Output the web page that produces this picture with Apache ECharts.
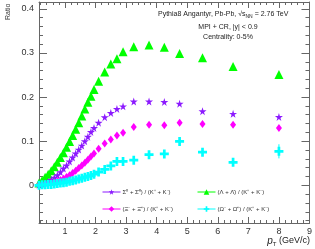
<!DOCTYPE html>
<html><head><meta charset="utf-8">
<script src="https://cdn.jsdelivr.net/npm/echarts@6/dist/echarts.min.js"></script>
<style>html,body{margin:0;padding:0;background:#fff}#c{width:315px;height:249px}</style>
</head><body><div id="c"></div>
<script>
const pT = [0.15,0.25,0.35,0.45,0.55,0.65,0.75,0.85,0.95,1.05,1.15,1.25,1.35,1.45,1.55,1.65,1.75,1.85,1.95,2.1,2.3,2.5,2.7,2.9,3.25,3.75,4.25,4.75,5.5,6.5,8.0];
const lambdaK = [0.005,0.011,0.018,0.025,0.033,0.042,0.052,0.063,0.074,0.086,0.099,0.113,0.127,0.142,0.157,0.173,0.188,0.202,0.217,0.236,0.257,0.275,0.287,0.303,0.314,0.318,0.313,0.299,0.289,0.269,0.251];
const sigmaK = [0.001,0.003,0.005,0.008,0.012,0.017,0.023,0.030,0.038,0.045,0.054,0.063,0.072,0.081,0.090,0.100,0.110,0.121,0.130,0.142,0.1545,0.164,0.173,0.179,0.190,0.190,0.189,0.185,0.168,0.162,0.155];
const xiK = [0.001,0.002,0.003,0.004,0.005,0.007,0.009,0.012,0.015,0.019,0.023,0.028,0.033,0.039,0.045,0.051,0.058,0.065,0.072,0.083,0.095,0.104,0.113,0.119,0.132,0.137,0.136,0.142,0.139,0.137,0.130];
const omegaK = [0.000,0.001,0.001,0.002,0.002,0.003,0.004,0.005,0.006,0.007,0.009,0.010,0.012,0.014,0.016,0.018,0.020,0.022,0.025,0.030,0.036,0.044,0.054,0.054,0.057,0.0695,0.071,0.0995,0.075,0.052,0.077];
const omegaErr = [0,0,0,0,0,0,0,0,0,0,0,0,0,0,0,0,0,0,0,0,0,0,0,0,0,0.003,0.004,0.006,0.005,0.005,0.016];
const seriesNames = ['Σ⁰ + Σ̄⁰) / (K⁺ + K⁻)','(Ξ⁻ + Ξ̄⁺) / (K⁺ + K⁻)','(Λ + Λ̄) / (K⁺ + K⁻)','(Ω⁻ + Ω̄⁺) / (K⁺ + K⁻)'];
const xTicks = [1,2,3,4,5,6,7,8,9];
const yTicks = [0,0.1,0.2,0.3,0.4];

const starPath = 'path://M50,0 L61,35 L98,35 L68,57 L79,91 L50,70 L21,91 L32,57 L2,35 L39,35 Z';
const crossPath = 'path://M3.5,0h3v3.5h3.5v3h-3.5v3.5h-3v-3.5h-3.5v-3h3.5z';
const pair = arr => pT.map((x,i)=>[x,arr[i]]);

const chart = echarts.init(document.getElementById('c'), null, {renderer:'canvas'});
const axisCol = '#666';
function mk(name, data, color, symbol, size, z){
  return {name, type:'line', data, symbol, symbolSize:size, showSymbol:true, z,
    lineStyle:{width:0, opacity:0}, itemStyle:{color, borderWidth:0}, emphasis:{disabled:true}, animation:false};
}
const xCommon = {type:'value', min:0.15, max:9, splitNumber:9, splitLine:{show:false},
    axisTick:{show:true, inside:true, length:6, lineStyle:{color:axisCol}},
    minorTick:{show:true, splitNumber:5, length:3, lineStyle:{color:axisCol}}};
const yCommon = {type:'value', min:-0.0855, max:0.4155, splitNumber:5, splitLine:{show:false},
    axisTick:{show:true, inside:true, length:8, lineStyle:{color:axisCol}},
    minorTick:{show:true, splitNumber:5, length:4, lineStyle:{color:axisCol}}};
chart.setOption({
  animation:false,
  grid:{left:39, right:4, top:2, bottom:26},
  xAxis:[Object.assign({}, xCommon, {position:'bottom',
    axisLine:{show:true, onZero:false, lineStyle:{color:axisCol, width:1}},
    axisLabel:{show:true, interval:0, showMinLabel:false, hideOverlap:false, color:'#333', fontSize:9, fontFamily:'Liberation Sans', margin:4,
      formatter:v=>xTicks.includes(Math.round(v*100)/100)?String(v):''}}),
   Object.assign({}, xCommon, {position:'top',
    axisLine:{show:true, onZero:false, lineStyle:{color:axisCol}},
    axisLabel:{show:false}})],
  yAxis:[Object.assign({}, yCommon, {position:'left',
    axisLine:{show:true, onZero:false, lineStyle:{color:axisCol}},
    axisLabel:{show:true, showMinLabel:false, showMaxLabel:false, color:'#333', fontSize:9, fontFamily:'Liberation Sans', margin:5,
      formatter:v=>yTicks.some(t=>Math.abs(t-v)<1e-6)?String(Math.round(v*10)/10):''}}),
   Object.assign({}, yCommon, {position:'right',
    axisLine:{show:true, onZero:false, lineStyle:{color:axisCol}},
    axisLabel:{show:false}})],
  legend:[
    {data:[seriesNames[0], seriesNames[1]], orient:'vertical', left:97, top:184, itemWidth:18, itemHeight:7, itemGap:11,
     textStyle:{fontSize:6, color:'#333', fontFamily:'Liberation Sans', padding:[0,0,0,-3]}, lineStyle:{width:1, opacity:1}, selectedMode:false},
    {data:[seriesNames[2], seriesNames[3]], orient:'vertical', left:192, top:184, itemWidth:18, itemHeight:7, itemGap:11,
     textStyle:{fontSize:6, color:'#333', fontFamily:'Liberation Sans', padding:[0,0,0,-3]}, lineStyle:{width:1, opacity:1}, selectedMode:false}
  ],
  graphic:[
    {type:'text', x:8, y:20, rotation:Math.PI/2, style:{text:'Ratio', fontSize:7, fill:'#333', fontFamily:'Liberation Sans', textAlign:'left', textVerticalAlign:'middle'}},
    {type:'text', left:158, top:11, style:{rich:{a:{fontSize:7, fill:'#222', fontFamily:'Liberation Sans'}, s:{fontSize:5, fill:'#222', fontFamily:'Liberation Sans', padding:[4,0,0,0]}},
      text:'{a|Pythia8 Angantyr, Pb-Pb, √}{a|s}{s|NN}{a| = 2.76 TeV}'}},
    {type:'text', x:228, y:27, style:{text:'MPI + CR, |y| < 0.9', fontSize:7, fill:'#222', fontFamily:'Liberation Sans', textAlign:'center', textVerticalAlign:'middle'}},
    {type:'text', x:228, y:37, style:{text:'Centrality: 0-5%', fontSize:7, fill:'#222', fontFamily:'Liberation Sans', textAlign:'center', textVerticalAlign:'middle'}},
    {type:'text', right:5, top:236, style:{rich:{p:{fontSize:10, fontStyle:'italic', fill:'#222', fontFamily:'Liberation Sans'}, t:{fontSize:6, fill:'#222', fontFamily:'Liberation Sans', padding:[6,0,0,0]}, g:{fontSize:9, fill:'#222', fontFamily:'Liberation Sans'}}, text:'{p|p}{t|T}{g| (GeV/c)}'}}
  ],
  series:[
    mk(seriesNames[2], pair(lambdaK), '#00ff00', 'triangle', 9, 2),
    mk(seriesNames[0], pair(sigmaK), '#8c1aff', starPath, 8, 3),
    mk(seriesNames[1], pair(xiK), '#ff00ff', 'diamond', [6,8], 4),
    {type:'custom', name:'omegaErr', data:pT.map((x,i)=>[x,omegaK[i],omegaErr[i]]), z:5, silent:true,
      renderItem:(params, api)=>{
        const e = api.value(2); if(!e) return null;
        const a = api.coord([api.value(0), api.value(1)-e]);
        const b = api.coord([api.value(0), api.value(1)+e]);
        return {type:'line', shape:{x1:a[0], y1:a[1], x2:b[0], y2:b[1]}, style:{stroke:'#00ffff', lineWidth:1}};
      }},
    mk(seriesNames[3], pair(omegaK), '#00ffff', crossPath, 9, 6)
  ]
});
</script></body></html>
